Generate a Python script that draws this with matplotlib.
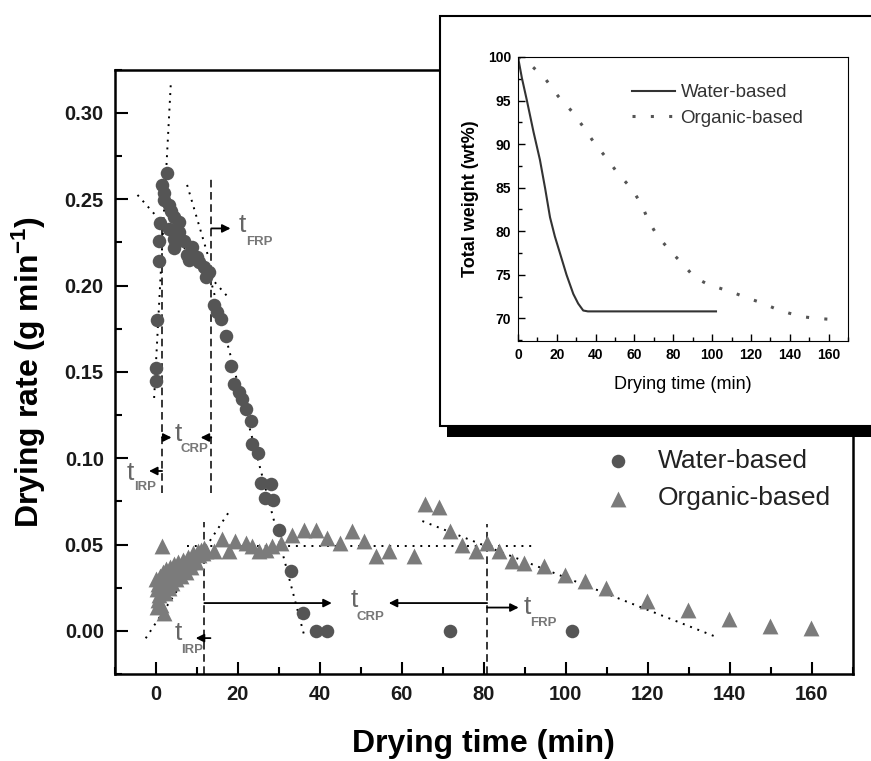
import matplotlib
matplotlib.use('Agg')
import matplotlib.pyplot as plt
from matplotlib.patches import Rectangle
from matplotlib.ticker import MultipleLocator, FormatStrFormatter

plt.rcParams['font.family'] = ['Liberation Sans', 'DejaVu Sans']
plt.rcParams['mathtext.fontset'] = 'custom'
plt.rcParams['mathtext.rm'] = 'Liberation Sans'
plt.rcParams['mathtext.bf'] = 'Liberation Sans:bold'

# drying rate, water-based (min, g/min)
water_t = [-0.1, -0.1, 0.3, 0.7, 0.7, 1.1, 1.5, 2.0, 2.0, 2.8, 3.2, 3.2, 3.6, 4.4, 4.4, 4.4,
           5.6, 5.6, 6.8, 7.6, 8.0, 8.9, 10.1, 10.5, 11.7, 12.1, 12.9,
           14.1, 15.0, 15.8, 17.0, 18.2, 19.0, 20.2, 21.0, 21.9, 23.1, 23.5, 25.0, 25.7,
           26.5, 28.0, 28.5, 30.0, 32.9, 35.9, 39.0, 41.8, 71.8, 101.6]
water_r = [0.145, 0.152, 0.180, 0.214, 0.226, 0.236, 0.258, 0.2535, 0.2496, 0.265, 0.2467, 0.233,
           0.243, 0.240, 0.227, 0.2215, 0.237, 0.231, 0.226, 0.2176, 0.2147, 0.2225, 0.2167, 0.2138,
           0.2109, 0.205, 0.208,
           0.1886, 0.1847, 0.1808, 0.171, 0.1537, 0.143, 0.1382, 0.1343, 0.1285, 0.1217, 0.108,
           0.103, 0.0859, 0.0771, 0.0849, 0.0758, 0.0587, 0.0345, 0.0103, 0.0, 0.0, 0.0, 0.0]

# drying rate, organic-based
org_t = [0.0, 0.2, 0.3, 0.4, 0.6, 0.8, 1.0, 1.2, 1.4, 1.5, 1.7, 1.9, 2.0, 2.2, 2.5, 2.8, 3.1,
         3.4, 3.7, 4.0, 4.3, 4.7, 5.0, 5.4, 5.8, 6.2, 6.6, 7.0, 7.4, 7.8, 8.2, 8.6, 9.0, 9.4,
         9.8, 10.2, 10.6, 11.0, 11.4, 11.8,
         12.1, 14.1, 16.2, 17.8, 19.4, 21.9, 23.5, 25.1, 26.8, 28.4, 30.4, 33.3, 36.1, 39.0,
         41.8, 45.0, 47.9, 50.7, 53.6, 56.8, 62.9, 65.7, 69.0, 71.8, 74.7, 78.0, 80.8, 83.7,
         86.9, 89.8, 94.6, 99.7, 104.8, 109.8, 119.8, 129.8, 139.8, 149.9, 159.9]
org_r = [0.030, 0.024, 0.0141, 0.018, 0.027, 0.021, 0.032, 0.015, 0.026, 0.0494, 0.034, 0.029,
         0.0103, 0.022, 0.036, 0.031, 0.025, 0.037, 0.033, 0.028, 0.039, 0.034, 0.030, 0.040,
         0.036, 0.032, 0.041, 0.038, 0.034, 0.043, 0.040, 0.037, 0.045, 0.042, 0.040, 0.046,
         0.044, 0.047, 0.045, 0.048,
         0.046, 0.046, 0.053, 0.046, 0.052, 0.051, 0.049, 0.046, 0.047, 0.049, 0.051, 0.0558,
         0.0587, 0.0587, 0.0539, 0.051, 0.0578, 0.052, 0.0436, 0.046, 0.0432, 0.0733, 0.0719,
         0.0578, 0.050, 0.046, 0.051, 0.046, 0.0403, 0.0393, 0.0374, 0.0326, 0.0287, 0.0248,
         0.0171, 0.0118, 0.0068, 0.0029, 0.0016]

# inset: total weight (wt%)
w_water_t = [0, 2, 4.5, 8, 11.3, 14, 16.5, 19, 21.6, 25, 28.5, 31, 33.6, 36, 60, 102]
w_water = [100, 97.6, 95.1, 91.4, 88.2, 84.9, 81.6, 79.4, 77.5, 75.0, 72.8, 71.7, 70.9, 70.8, 70.8, 70.8]
w_org_t = [0, 7.0, 14.4, 20.7, 27.6, 33.6, 39.1, 45.6, 51.6, 58.5, 63.6, 67.0, 71.7, 78.2, 85.0,
           91.0, 97.9, 104.8, 111.6, 118.5, 125.4, 132.7, 139.6, 146.3, 153.3, 160.1]
w_org = [100, 99.0, 97.4, 95.5, 93.8, 92.0, 90.2, 88.4, 86.6, 84.9, 83.1, 81.3, 79.5, 77.8, 76.2,
         74.7, 73.9, 73.4, 72.9, 72.3, 71.8, 71.1, 70.6, 70.2, 70.0, 69.9]

# guide lines (fitted tangents) and period boundaries
water_fits = [((3.6, -0.5), (0.316, 0.1326)), ((-4.5, 17.7), (0.2525, 0.193)),
              ((7.6, 12.9), (0.2583, 0.2157)), ((13.7, 36.1), (0.2, -0.002))]
org_fits = [((-2.5, 18.2), (-0.0043, 0.0703)), ((7.6, 93), (0.049, 0.049)),
            ((65, 136.9), (0.0636, -0.0037))]
water_bounds = [(1.5, 0.08, 0.24), (13.5, 0.08, 0.262)]
org_bounds = [(11.8, -0.025, 0.063), (80.8, -0.025, 0.062)]

fig = plt.figure(figsize=(8.71, 7.61), dpi=100)
ax = fig.add_axes([0.132, 0.1143, 0.847, 0.794])

for xs, ys in water_fits + org_fits:
    ax.plot(xs, ys, color='black', lw=1.4, ls=(0, (1, 3)), zorder=2)
for x, y0, y1 in water_bounds + org_bounds:
    ax.plot([x, x], [y0, y1], color='black', lw=1.1, ls=(0, (5, 3)), zorder=2)

org = ax.scatter(org_t, org_r, marker='^', s=130, color='#7b7b7b', linewidths=0,
                 label='Organic-based', zorder=3)
wat = ax.scatter(water_t, water_r, marker='o', s=95, color='#555555', linewidths=0,
                 label='Water-based', zorder=4)

arr = dict(arrowstyle='-|>', color='black', lw=1.3, mutation_scale=12, shrinkA=0, shrinkB=0)
def period(xt, yt, arrows):
    ax.text(xt, yt, 't', fontsize=19, color='#666666', ha='center', va='center')
    for (x0, y0), (x1, y1) in arrows:
        ax.annotate('', xy=(x1, y1), xytext=(x0, y0), arrowprops=arr)

def sub(x, y, s):
    ax.text(x, y, s, fontsize=9.5, fontweight='bold', color='#777777', ha='center', va='center')

period(-6.2, 0.0915, [((1.5, 0.0926), (-1.7, 0.0926))]); sub(-2.7, 0.0835, 'IRP')
period(5.4, 0.1140, [((1.5, 0.112), (3.8, 0.112)), ((13.5, 0.112), (10.9, 0.112))]); sub(9.5, 0.1055, 'CRP')
period(21.1, 0.2350, [((13.5, 0.2331), (18.2, 0.2331))]); sub(25.2, 0.2253, 'FRP')
period(5.4, -0.0010, [((13.3, -0.0042), (9.7, -0.0042))]); sub(8.9, -0.0108, 'IRP')
period(48.3, 0.0176, [((11.8, 0.0161), (42.9, 0.0161)), ((80.8, 0.0161), (56.8, 0.0161))]); sub(52.4, 0.0080, 'CRP')
period(90.6, 0.0141, [((80.8, 0.0135), (88.5, 0.0135))]); sub(94.6, 0.0046, 'FRP')

ax.set_xlim(-10, 170)
ax.set_ylim(-0.025, 0.325)
ax.xaxis.set_major_locator(MultipleLocator(20))
ax.xaxis.set_minor_locator(MultipleLocator(10))
ax.yaxis.set_major_locator(MultipleLocator(0.05))
ax.yaxis.set_minor_locator(MultipleLocator(0.025))
ax.yaxis.set_major_formatter(FormatStrFormatter('%.2f'))
ax.tick_params(which='both', direction='in', width=1.5)
ax.tick_params(which='major', length=9, labelsize=14.5, pad=8, labelcolor='#1a1a1a')
ax.tick_params(which='minor', length=5)
for lab in ax.get_xticklabels() + ax.get_yticklabels():
    lab.set_fontweight('bold')
for sp in ax.spines.values():
    sp.set_linewidth(1.8)
ax.set_xlabel('Drying time (min)', fontsize=23, fontweight='bold', labelpad=18)
ax.set_ylabel(r'Drying rate (g min$\mathbf{^{-1}}$)', fontsize=23, fontweight='bold', labelpad=12)

ax.legend([wat, org], ['Water-based', 'Organic-based'], loc='upper left',
          bbox_to_anchor=(0.664, 0.372), frameon=False, fontsize=19, handlelength=1.0,
          handletextpad=1.0, borderaxespad=0, borderpad=0, labelspacing=0.5,
          markerscale=1.0, labelcolor='#222222')

# inset box with drop shadow
fig.add_artist(Rectangle((0.513, 0.426), 0.49, 0.016, transform=fig.transFigure,
                         facecolor='black', edgecolor='none', zorder=1))
fig.add_artist(Rectangle((0.505, 0.440), 0.497, 0.539, transform=fig.transFigure,
                         facecolor='white', edgecolor='black', lw=1.5, zorder=1))

ins = fig.add_axes([0.5947, 0.5519, 0.3789, 0.3732])
ins.set_zorder(2)
ins.plot(w_water_t, w_water, color='#333333', lw=1.5, label='Water-based')
ins.plot(w_org_t, w_org, color='#555555', lw=2.2, ls=(0, (1, 5)), label='Organic-based')
ins.set_xlim(0, 170)
ins.set_ylim(67.4, 100)
ins.xaxis.set_major_locator(MultipleLocator(20))
ins.xaxis.set_minor_locator(MultipleLocator(10))
ins.yaxis.set_major_locator(MultipleLocator(5))
ins.yaxis.set_minor_locator(MultipleLocator(2.5))
ins.tick_params(which='both', direction='in', width=1)
ins.tick_params(which='major', length=5, labelsize=10, pad=5)
ins.tick_params(which='minor', length=3)
for lab in ins.get_xticklabels() + ins.get_yticklabels():
    lab.set_fontweight('bold')
ins.set_xlabel('Drying time (min)', fontsize=13, labelpad=10)
ins.set_ylabel('Total weight (wt%)', fontsize=13, fontweight='bold', labelpad=6)
ins.legend(loc='upper left', bbox_to_anchor=(0.345, 0.905), frameon=False, fontsize=13.5,
           handlelength=2.3, handletextpad=0.3, borderaxespad=0, borderpad=0,
           labelspacing=0.45, labelcolor='#333333')

fig.savefig('out.png', dpi=100)
